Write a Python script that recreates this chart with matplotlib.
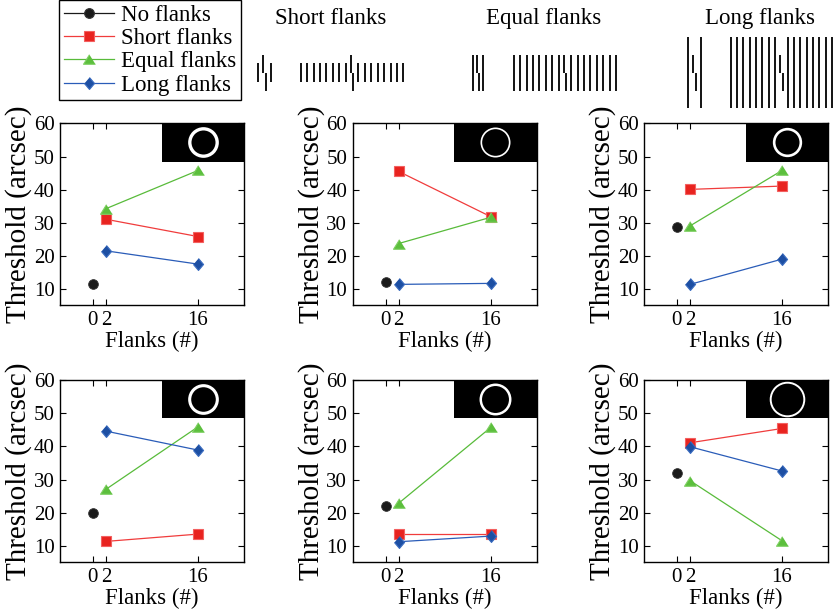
import matplotlib
matplotlib.use('Agg')
import matplotlib.pyplot as plt
from matplotlib.lines import Line2D
from matplotlib.patches import Rectangle

plt.rcParams['font.family'] = ['Liberation Serif', 'DejaVu Serif']

# ---------------- data ----------------
flank_x = [2, 16]
no_flank_x = [0]
series_names = ["No flanks", "Short flanks", "Equal flanks", "Long flanks"]

no_flanks = [11.6, 12.1, 28.7, 19.9, 22.0, 32.0]
short_flanks = [[31.1, 25.9], [45.5, 31.9], [40.1, 41.1],
                [11.4, 13.6], [13.7, 13.7], [41.1, 45.4]]
equal_flanks = [[34.3, 45.8], [23.8, 31.7], [29.1, 45.8],
                [27.1, 45.9], [22.9, 45.7], [29.7, 11.6]]
long_flanks = [[21.6, 17.6], [11.5, 11.8], [11.5, 19.1],
               [44.6, 38.9], [11.3, 13.0], [39.9, 32.6]]

xticks = [0, 2, 16]
xticklabels = ["0", "2", "16"]
yticks = [10, 20, 30, 40, 50, 60]
ylabel = "Threshold (arcsec)"
xlabel = "Flanks (#)"
panel_titles = ["Short flanks", "Equal flanks", "Long flanks"]

# ---------------- styles ----------------
W, H = 833, 611
fig = plt.figure(figsize=(W / 100, H / 100), dpi=100)

tri = [(0, 0.8), (-1, -0.8), (1, -0.8)]
dia = [(0, 1), (0.85, 0), (0, -1), (-0.85, 0)]
styles = {
    "No flanks": dict(color='#1a1a1a', marker='o', ms=7, mfc='#1a1a1a', mec='#333333'),
    "Short flanks": dict(color='#f03c3c', marker='s', ms=6.5, mfc='#e8231f', mec='#f36060'),
    "Equal flanks": dict(color='#58bb3a', marker=tri, ms=8.6, mfc='#5cbf3d', mec='#7fcf63'),
    "Long flanks": dict(color='#2a5cb8', marker=dia, ms=8.6, mfc='#1d4fa3', mec='#3a6cc0'),
}

# overlay for illustrations, titles
ov = fig.add_axes([0, 0, 1, 1])
ov.set_xlim(0, W)
ov.set_ylim(H, 0)
ov.axis('off')

cy = 72.5
seg = 18
# (triple centre, triple half spacing, flank length, grating left, grating spacing, vernier half-offset)
illus = [
    (264.6, 6.35, 18.4, 300.7, 6.42, 1.2),
    (478.3, 5.0, 36.0, 514.0, 6.375, 1.0),
    (694.6, 6.35, 71.0, 730.7, 6.33, 1.35),
]
title_x = [331, 544, 760]
lw_g = 1.3
for (tc, ts, fl, gl, gs, vo), tx, tt in zip(illus, title_x, panel_titles):
    ov.text(tx, 24, tt, ha='center', va='baseline', fontsize=16.5)
    # triple
    ov.vlines([tc - ts, tc + ts], cy - fl / 2, cy + fl / 2, color='black', lw=lw_g)
    ov.vlines([tc - vo], cy - seg, cy, color='black', lw=lw_g)
    ov.vlines([tc + vo], cy, cy + seg, color='black', lw=lw_g)
    # grating with 8 flanks each side
    xs = [gl + i * gs for i in range(17) if i != 8]
    ov.vlines(xs, cy - fl / 2, cy + fl / 2, color='black', lw=lw_g)
    vc = gl + 8 * gs
    ov.vlines([vc - vo], cy - seg, cy, color='black', lw=lw_g)
    ov.vlines([vc + vo], cy, cy + seg, color='black', lw=lw_g)

# ---------------- panels ----------------
col_left = [60, 352.7, 644]
row_top = [123.3, 380]
aw, ah = 184, 182
ring_ms = [19.7, 20.4, 19.2, 19.9, 21.2, 24.2]
ring_mew = [2.4, 1.2, 1.9, 2.2, 1.8, 1.4]

for i in range(6):
    r, c = divmod(i, 3)
    ax = fig.add_axes([col_left[c] / W, 1 - (row_top[r] + ah) / H, aw / W, ah / H])
    ax.set_xlim(-5, 23)
    ax.set_ylim(5.2, 60)
    # inset stimulus
    ax.add_patch(Rectangle((0.553, 0.789), 0.447, 0.211, transform=ax.transAxes,
                           facecolor='black', edgecolor='none', zorder=1))
    ax.plot([0.776], [0.895], 'o', ms=ring_ms[i], mfc='none', mec='white',
            mew=ring_mew[i], transform=ax.transAxes, zorder=2)
    for name, vals in zip(series_names[1:], [short_flanks, equal_flanks, long_flanks]):
        s = styles[name]
        ax.plot(flank_x, vals[i], color=s['color'], lw=0.9, marker=s['marker'],
                ms=s['ms'], mfc=s['mfc'], mec=s['mec'], mew=0.8, zorder=3)
    s = styles["No flanks"]
    ax.plot(no_flank_x, [no_flanks[i]], ls='none', marker=s['marker'], ms=s['ms'],
            mfc=s['mfc'], mec=s['mec'], mew=0.6, zorder=3)
    ax.set_xticks(xticks)
    ax.set_xticklabels(xticklabels)
    ax.set_yticks(yticks)
    ax.tick_params(direction='in', top=True, right=True, length=4, width=0.8,
                   labelsize=15, pad=4)
    ax.set_ylabel(ylabel, fontsize=21, labelpad=1)
    ax.set_xlabel(xlabel, fontsize=16.5, labelpad=1)
    for sp in ax.spines.values():
        sp.set_linewidth(1.0)

# ---------------- legend ----------------
handles = []
for name in series_names:
    s = styles[name]
    handles.append(Line2D([0], [0], color=s['color'], lw=0.9, marker=s['marker'],
                          ms=s['ms'], mfc=s['mfc'], mec=s['mec'], mew=0.8))
leg = fig.legend(handles, series_names, loc='upper left',
                 bbox_to_anchor=(59 / W, 1.0), bbox_transform=fig.transFigure,
                 fontsize=16.5, frameon=True, fancybox=False, framealpha=1,
                 edgecolor='black', borderaxespad=0, numpoints=1,
                 handlelength=2.2, handletextpad=0.3, labelspacing=0.1,
                 borderpad=0.2)
leg.get_frame().set_linewidth(1.0)

fig.savefig('out.png', dpi=100)
